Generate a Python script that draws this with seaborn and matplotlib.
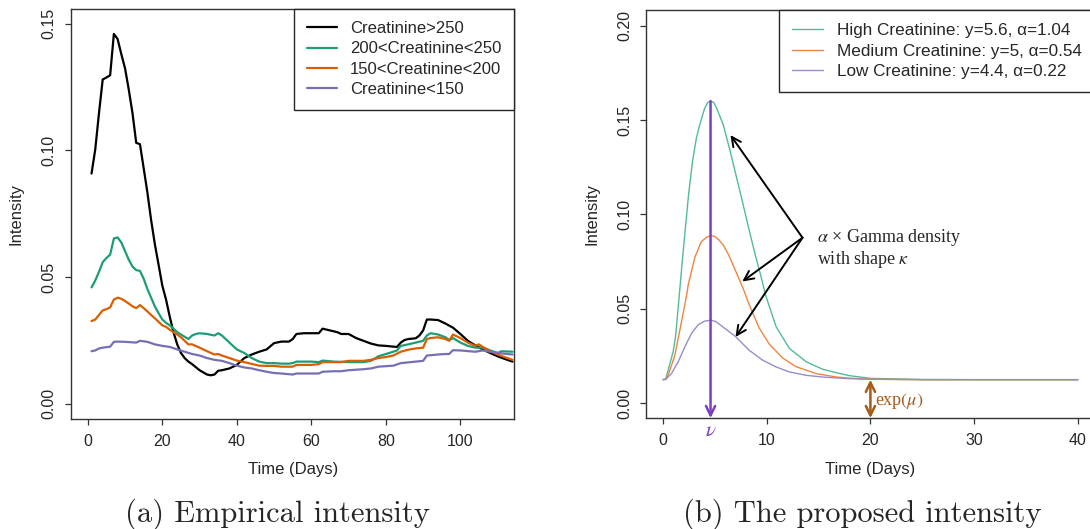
import matplotlib
matplotlib.use("Agg")
import matplotlib.pyplot as plt
import seaborn as sns

#
# 01. Dados - painel (a): intensidade empírica
#
t_c250 = [1, 2, 3, 4, 5, 6, 7, 8, 9, 10, 11, 12, 13, 14, 15, 16, 17, 18, 19, 20,
          21, 22, 23, 24, 25, 26, 27, 28, 30, 32, 33, 34, 35, 36, 38, 40, 42, 44,
          46, 48, 50, 52, 54, 55, 56, 58, 60, 62, 63, 65, 67, 68, 70, 72, 74, 76,
          78, 80, 82, 83, 84, 85, 86, 88, 89, 90, 91, 92, 94, 96, 98, 100, 102,
          104, 106, 108, 110, 112, 114]
v_c250 = [0.0909, 0.1004, 0.1147, 0.128, 0.1288, 0.1297, 0.146, 0.144, 0.138, 0.1324,
          0.124, 0.1147, 0.103, 0.1025, 0.093, 0.0834, 0.0725, 0.063, 0.0549, 0.0467,
          0.0412, 0.0344, 0.0283, 0.0235, 0.0201, 0.0181, 0.0167, 0.0157,
          0.0133, 0.0116, 0.0113, 0.0116, 0.0131, 0.0133, 0.014, 0.0154, 0.0181, 0.0195,
          0.0206, 0.0215, 0.024, 0.0246, 0.0246, 0.0256, 0.0276, 0.0279, 0.0279, 0.0279,
          0.0297, 0.029, 0.0283, 0.0276, 0.0276, 0.026, 0.0249, 0.0238, 0.0231, 0.0229,
          0.0226, 0.0225, 0.0242, 0.0252, 0.0256, 0.0259, 0.027, 0.029, 0.0333, 0.0333,
          0.0331, 0.0317, 0.0301, 0.0276, 0.0249, 0.0231, 0.0215, 0.0201, 0.0188, 0.0177,
          0.0167]

t_c200 = [1, 2, 3, 4, 5, 6, 7, 8, 9, 10, 11, 12, 13, 14, 15, 16, 17, 18, 19, 20,
          21, 22, 23, 24, 25, 26, 27, 28, 29, 30, 32, 34, 35, 36, 38, 40, 42, 44,
          46, 48, 50, 52, 54, 55, 56, 60, 62, 63, 66, 70, 74, 76, 78, 80, 82, 83,
          84, 86, 88, 90, 91, 92, 94, 96, 97, 98, 100, 102, 104, 106, 108, 110, 111, 114]
v_c200 = [0.046, 0.0487, 0.0521, 0.0559, 0.0576, 0.0589, 0.0653, 0.0657, 0.0637, 0.0603,
          0.0569, 0.0542, 0.0528, 0.0525, 0.0494, 0.0453, 0.0419, 0.0385, 0.0358, 0.0333,
          0.032, 0.031, 0.0297, 0.0283, 0.0274, 0.0265, 0.0256, 0.027, 0.0276, 0.0279,
          0.0276, 0.027, 0.0279, 0.027, 0.0242, 0.0215, 0.0201, 0.0181, 0.0167, 0.0161,
          0.0161, 0.0159, 0.0159, 0.0161, 0.0167, 0.0167, 0.0165, 0.0171, 0.0167, 0.0165,
          0.0165, 0.017, 0.0188, 0.0197, 0.0206, 0.0211, 0.0229, 0.0235, 0.0242, 0.0249,
          0.027, 0.0279, 0.0274, 0.0263, 0.0252, 0.026, 0.0242, 0.0229, 0.0222, 0.0222,
          0.0211, 0.0201, 0.0208, 0.0206]

t_c150 = [1, 2, 3, 4, 5, 6, 7, 8, 9, 10, 11, 12, 13, 14, 15, 16, 17, 18, 19, 20,
          21, 22, 23, 24, 25, 26, 27, 28, 30, 32, 34, 35, 36, 38, 40, 42, 44, 46,
          48, 50, 52, 55, 56, 60, 62, 63, 66, 68, 70, 74, 76, 78, 80, 82, 84, 86,
          88, 90, 91, 92, 94, 96, 97, 98, 100, 102, 104, 105, 106, 108, 110, 112, 114]
v_c150 = [0.0327, 0.0333, 0.0351, 0.0369, 0.0374, 0.0381, 0.0412, 0.0419, 0.0415, 0.0406,
          0.0396, 0.0385, 0.0378, 0.039, 0.0378, 0.0365, 0.0351, 0.0338, 0.0324, 0.031,
          0.0304, 0.0293, 0.0283, 0.0274, 0.0263, 0.0249, 0.0235, 0.0235,
          0.0222, 0.0208, 0.0195, 0.0197, 0.0191, 0.0181, 0.0171, 0.0165, 0.0158, 0.0151,
          0.015, 0.015, 0.0147, 0.0147, 0.0154, 0.0154, 0.0157, 0.0165, 0.0165, 0.0165,
          0.017, 0.017, 0.0174, 0.0181, 0.0185, 0.0191, 0.0206, 0.0214, 0.0219, 0.0222,
          0.0256, 0.026, 0.0263, 0.0256, 0.0249, 0.0274, 0.026, 0.0242, 0.0229, 0.0235,
          0.0225, 0.0208, 0.0195, 0.0184, 0.0174]

t_c0 = [1, 2, 3, 4, 6, 7, 8, 10, 13, 14, 16, 18, 20, 22, 24, 26, 28, 30, 32, 34,
        36, 38, 40, 42, 44, 46, 48, 50, 52, 55, 56, 60, 62, 63, 66, 68, 70, 74, 76, 78,
        82, 84, 88, 90, 91, 94, 96, 97, 98, 100, 104, 106, 110, 114]
v_c0 = [0.0208, 0.0211, 0.0219, 0.0222, 0.0226, 0.0245, 0.0246, 0.0245, 0.0242, 0.0249,
        0.0245, 0.0235, 0.0229, 0.0225, 0.0215, 0.0206, 0.0197, 0.0191, 0.0181, 0.0174,
        0.017, 0.0161, 0.0151, 0.0144, 0.014, 0.0133, 0.0127, 0.0122, 0.012, 0.0116,
        0.012, 0.012, 0.012, 0.0127, 0.0129, 0.0129, 0.0133, 0.0137, 0.014, 0.0147,
        0.0151, 0.0161, 0.0167, 0.017, 0.0191, 0.0195, 0.0197, 0.0197, 0.0212, 0.0211,
        0.0206, 0.0211, 0.0201, 0.0195]

rotulos_a = ["Creatinine>250", "200<Creatinine<250", "150<Creatinine<200", "Creatinine<150"]

#
# 02. Dados - painel (b): intensidade proposta
#
t_alto = [0, 0.25, 0.49, 0.97, 1.2, 1.56, 1.95, 2.46, 2.84, 3.2, 3.52, 4.0, 4.3, 4.58,
          4.9, 5.2, 5.8, 6.4, 7.0, 7.6, 8.2, 8.8, 9.4, 9.9, 10.9, 12.18, 13.8, 15.4,
          16.7, 18, 20, 25, 30, 40]
v_alto = [0.0124, 0.0128, 0.0174, 0.0272, 0.035, 0.057, 0.081, 0.1105, 0.128, 0.140,
          0.1472, 0.156, 0.1592, 0.160, 0.1592, 0.1558, 0.1475, 0.135, 0.1215, 0.108,
          0.094, 0.0805, 0.068, 0.057, 0.0405, 0.029, 0.0219, 0.0179,
          0.0161, 0.0145, 0.0131, 0.0125, 0.0124, 0.0124]

t_medio = [0, 0.25, 0.49, 1.14, 1.79, 2.3, 2.44, 3.08, 3.68, 4.2, 4.58, 5.0, 5.36, 5.83,
           6.33, 7.31, 7.76, 8.28, 9.25, 10.23, 11.53, 12.82, 14.77, 16.72, 18, 20, 25,
           30, 40]
v_medio = [0.0124, 0.0127, 0.0147, 0.0254, 0.0434, 0.058, 0.0631, 0.0774, 0.0855, 0.0879,
           0.0887, 0.0882, 0.0866, 0.0835, 0.0785, 0.066, 0.0602, 0.0525, 0.040, 0.0313,
           0.0239, 0.0193, 0.0156, 0.0138, 0.0132, 0.0127, 0.0124, 0.0124, 0.0124]

t_baixo = [0, 0.25, 0.81, 1.46, 2.11, 2.76, 3.41, 4.0, 4.58, 5.1, 5.68, 6.98, 8.28, 9.58,
           10.88, 12.18, 13.8, 15.4, 16.7, 18, 20, 25, 30, 40]
v_baixo = [0.0124, 0.0125, 0.0156, 0.0219, 0.0299, 0.0371, 0.0416, 0.0434, 0.0439, 0.0432,
           0.0407, 0.0353, 0.0281, 0.0228, 0.0192, 0.0165, 0.0147, 0.0138, 0.0133, 0.0129,
           0.0126, 0.0124, 0.0124, 0.0124]

rotulos_b = ["High Creatinine: y=5.6, α=1.04",
             "Medium Creatinine: y=5, α=0.54",
             "Low Creatinine: y=4.4, α=0.22"]

# anotações (t, intensidade)
nu_t, pico = 4.58, 0.160
exp_mu, t_exp = 0.0124, 20
origem_seta = (13.45, 0.0876)
alvos_seta = [(6.5, 0.142), (7.64, 0.0644), (6.99, 0.035)]

#
# 03. Tema
#
sns.set_theme(style="white")
plt.rcParams["font.family"] = ["Liberation Sans", "DejaVu Sans"]
plt.rcParams["mathtext.fontset"] = "stix"

cores_a = ["black", "#1B9E77", "#D95F02", "#7570B3"]
cores_b = ["#52BB98", "#EE8544", "#948FCB"]
roxo = "#7B3FBF"
marrom = "#A65A1B"

fig = plt.figure(figsize=(10.9, 5.29), dpi=100)
ax1 = fig.add_axes([0.0654, 0.2072, 0.4062, 0.7766])
ax2 = fig.add_axes([0.5931, 0.2095, 0.4109, 0.7707])

#
# 04. Painel (a)
#
for t, v, cor, rot in zip([t_c250, t_c200, t_c150, t_c0],
                          [v_c250, v_c200, v_c150, v_c0], cores_a, rotulos_a):
    sns.lineplot(x=t, y=v, ax=ax1, color=cor, linewidth=1.6, label=rot,
                 estimator=None, sort=False)
ax1.set_xlim(-4.43, 114.4)
ax1.set_ylim(-0.0061, 0.156)
ax1.set_xticks([0, 20, 40, 60, 80, 100])
ax1.set_yticks([0.0, 0.05, 0.10, 0.15])
ax1.set_yticklabels(["0.00", "0.05", "0.10", "0.15"])

#
# 05. Painel (b)
#
for t, v, cor, rot in zip([t_alto, t_medio, t_baixo], [v_alto, v_medio, v_baixo],
                          cores_b, rotulos_b):
    sns.lineplot(x=t, y=v, ax=ax2, color=cor, linewidth=1.0, label=rot,
                 estimator=None, sort=False)
ax2.set_xlim(-1.6, 41.6)
ax2.set_ylim(-0.008, 0.208)
ax2.set_xticks([0, 10, 20, 30, 40])
ax2.set_yticks([0.0, 0.05, 0.10, 0.15, 0.20])
ax2.set_yticklabels(["0.00", "0.05", "0.10", "0.15", "0.20"])

# setas
estilo = "->,head_length=0.45,head_width=0.22"
ax2.annotate("", xy=(nu_t, -0.008), xytext=(nu_t, pico),
             arrowprops=dict(arrowstyle=estilo, color=roxo, lw=1.8, shrinkA=0,
                             shrinkB=0, mutation_scale=15), annotation_clip=False)
ax2.text(nu_t, -0.0145, r"$\nu$", color=roxo, fontsize=15, ha="center",
         va="center", clip_on=False)
ax2.annotate("", xy=(t_exp, -0.008), xytext=(t_exp, exp_mu),
             arrowprops=dict(arrowstyle="<" + estilo, color=marrom, lw=1.8,
                             shrinkA=0, shrinkB=0, mutation_scale=15),
             annotation_clip=False)
ax2.text(20.4, 0.0013, r"exp$(\mu)$", color=marrom, fontsize=13,
         family="Liberation Serif", ha="left", va="center")
for alvo in alvos_seta:
    ax2.annotate("", xy=alvo, xytext=origem_seta,
                 arrowprops=dict(arrowstyle=estilo, color="black", lw=1.4,
                                 shrinkA=0, shrinkB=0, mutation_scale=15))
ax2.text(14.83, 0.0851, "$\\alpha$ × Gamma density", fontsize=13,
         family="Liberation Serif", ha="left", va="baseline")
ax2.text(14.83, 0.0739, "with shape $\\kappa$", fontsize=13,
         family="Liberation Serif", ha="left", va="baseline")

#
# 06. Eixos, legendas, spines
#
for ax, xc, yc, lw, fs in [(ax1, -0.1238, -0.123, 1.6, 12), (ax2, -0.1214, -0.127, 1.0, 12.3)]:
    ax.set_xlabel("Time (Days)", fontsize=12)
    ax.set_ylabel("Intensity", fontsize=12)
    ax.xaxis.set_label_coords(0.5, yc)
    ax.yaxis.set_label_coords(xc, 0.5)
    ax.xaxis.label.set_va("center")
    ax.yaxis.label.set_va("center")
    for s in ax.spines.values():
        s.set_visible(True)
        s.set_linewidth(1.0)
        s.set_color("0.2")
    ax.tick_params(axis="both", direction="out", length=4.5, width=0.9,
                   color="0.2", labelsize=11.5, pad=6, bottom=True, left=True)
    ax.tick_params(axis="y", labelrotation=90)
    for lab in ax.get_yticklabels():
        lab.set_va("center")
    leg = ax.legend(loc="upper right", frameon=True, fancybox=False,
                    edgecolor="0.15", framealpha=1, borderaxespad=0,
                    fontsize=fs, handlelength=1.8, handletextpad=0.8,
                    labelspacing=0.32, borderpad=0.75)
    leg.get_frame().set_linewidth(1.0)
    for ln in leg.get_lines():
        ln.set_linewidth(lw)

#
# 07. Legendas (a)/(b)
#
fig.text(277.5 / 1090, 0.0142, "(a) Empirical intensity", family="cmr10",
         fontsize=22, ha="center", va="baseline")
fig.text(862.5 / 1090, 0.0142, "(b) The proposed intensity", family="cmr10",
         fontsize=22, ha="center", va="baseline")

fig.savefig("out.png", dpi=100)
